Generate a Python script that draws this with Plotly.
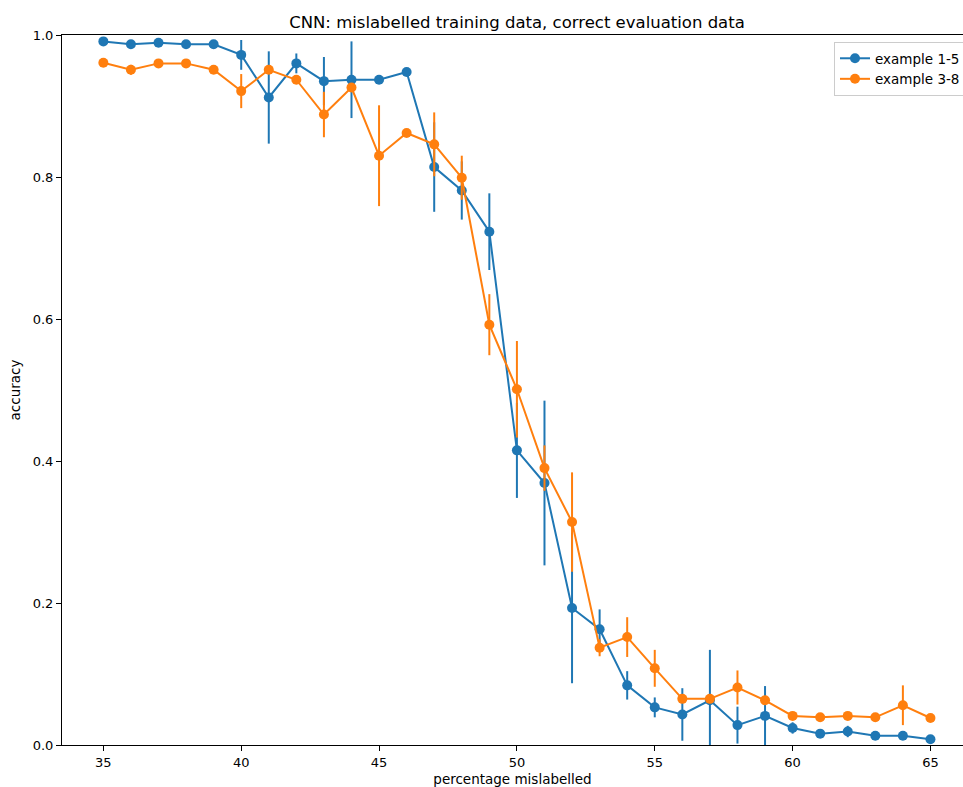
import plotly.graph_objects as go

pct = list(range(35, 66))

acc_1_5 = [0.991, 0.987, 0.989, 0.987, 0.987, 0.972, 0.912, 0.960, 0.935, 0.937,
           0.937, 0.948, 0.814, 0.781, 0.723, 0.415, 0.369, 0.193, 0.163, 0.084,
           0.053, 0.043, 0.063, 0.028, 0.041, 0.024, 0.016, 0.019, 0.013, 0.013,
           0.008]
err_1_5 = [0.0, 0.0, 0.0, 0.0, 0.0, 0.021, 0.065, 0.014, 0.034, 0.054,
           0.0, 0.0, 0.063, 0.041, 0.054, 0.067, 0.116, 0.106, 0.028, 0.020,
           0.014, 0.037, 0.071, 0.026, 0.042, 0.008, 0.0, 0.008, 0.0, 0.0,
           0.0]

acc_3_8 = [0.961, 0.951, 0.960, 0.960, 0.951, 0.921, 0.951, 0.937, 0.888, 0.926,
           0.830, 0.862, 0.846, 0.799, 0.592, 0.501, 0.390, 0.314, 0.137, 0.152,
           0.108, 0.065, 0.065, 0.081, 0.063, 0.041, 0.039, 0.041, 0.039, 0.056,
           0.038]
err_3_8 = [0.0, 0.007, 0.0, 0.0, 0.0, 0.024, 0.0, 0.0, 0.032, 0.0,
           0.071, 0.005, 0.045, 0.031, 0.043, 0.068, 0.032, 0.070, 0.012, 0.028,
           0.026, 0.0, 0.0, 0.024, 0.005, 0.0, 0.0, 0.0, 0.0, 0.028,
           0.0]

series = [
    ("example 1-5", acc_1_5, err_1_5, "#1f77b4"),
    ("example 3-8", acc_3_8, err_3_8, "#ff7f0e"),
]

fig = go.Figure()
for name, y, e, c in series:
    fig.add_trace(go.Scatter(
        x=pct, y=y, name=name, mode="lines+markers",
        line=dict(color=c, width=2),
        marker=dict(color=c, size=10),
        error_y=dict(type="data", array=e, visible=True, color=c, thickness=2, width=0),
    ))

W, H = 963, 787
L, R, T, B = 62, 0, 35, 42
fig.update_layout(
    width=W, height=H,
    margin=dict(l=L, r=R, t=T, b=B, autoexpand=False),
    paper_bgcolor="white", plot_bgcolor="white",
    font=dict(family="DejaVu Sans", size=13, color="black"),
    title=dict(text="CNN: mislabelled training data, correct evaluation data",
               x=(517 - L) / (W - L), xref="paper", xanchor="center",
               y=1 - 22 / H, yref="container", yanchor="middle",
               font=dict(size=16.5, color="black")),
    showlegend=True,
    legend=dict(x=(834 - L) / (W - L), y=(745 - 42) / 710, xanchor="left", yanchor="top",
                bgcolor="rgba(255,255,255,0.8)", bordercolor="#cccccc", borderwidth=1,
                font=dict(size=13.5, color="black"), tracegroupgap=0),
)
fig.update_xaxes(
    range=[33.5, 33.5 + (W - L) / 27.57], tickvals=[35, 40, 45, 50, 55, 60, 65],
    showgrid=False, zeroline=False, showline=True, linecolor="black", linewidth=1,
    mirror=True, ticks="outside", ticklen=5, tickcolor="black",
    tickfont=dict(size=13),
    title=dict(text="percentage mislabelled", standoff=13, font=dict(size=13.5)),
    automargin=False,
)
fig.update_yaxes(
    range=[0, 1], tickvals=[0, 0.2, 0.4, 0.6, 0.8, 1.0], tickformat=".1f",
    showgrid=False, zeroline=False, showline=True, linecolor="black", linewidth=1,
    ticks="outside", ticklen=5, tickcolor="black",
    tickfont=dict(size=13),
    title=dict(text="accuracy", standoff=8, font=dict(size=13.5)),
    automargin=False,
)
fig.write_html("out.html")
